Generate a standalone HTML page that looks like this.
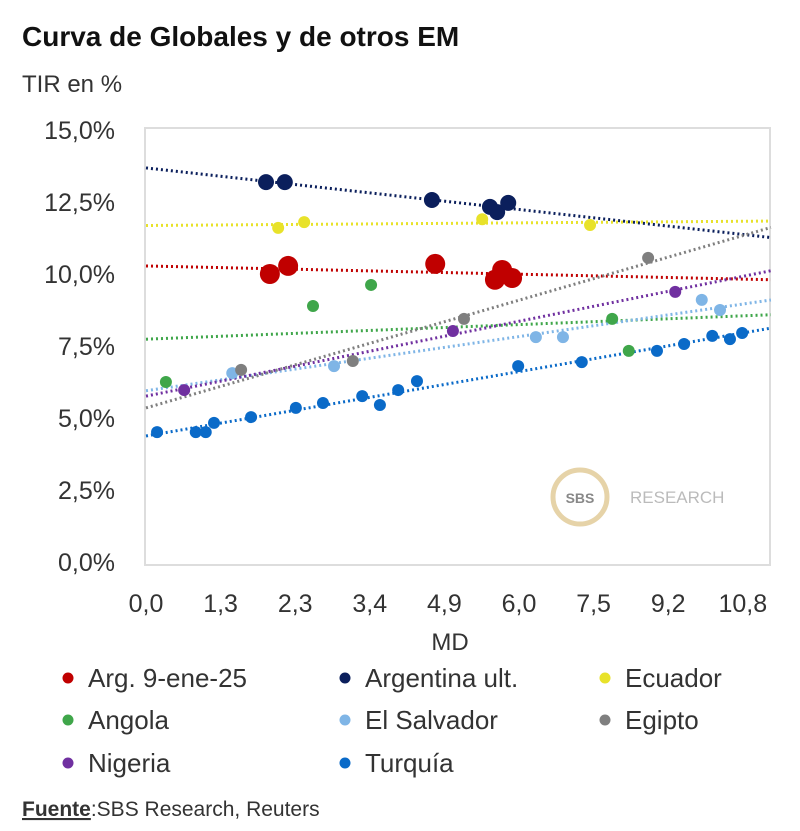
<!DOCTYPE html>
<html><head><meta charset="utf-8"><style>
html,body{margin:0;padding:0;background:#fff;}
body{width:800px;height:826px;overflow:hidden;font-family:"Liberation Sans",sans-serif;color:#222;}
</style></head><body>
<svg id="chart" width="800" height="826" viewBox="0 0 800 826" xmlns="http://www.w3.org/2000/svg" font-family="Liberation Sans, sans-serif">
<text x="22" y="46" font-size="28" font-weight="bold" fill="#111">Curva de Globales y de otros EM</text>
<text x="22" y="92" font-size="24" fill="#333">TIR en %</text>
<rect x="145" y="128" width="625" height="437" fill="#fff" stroke="#ddd" stroke-width="2"/>
<g>
<circle cx="580" cy="497" r="27" fill="none" stroke="#e6d3a8" stroke-width="5"/>
<text x="580" y="503" font-size="14" text-anchor="middle" fill="#888" font-weight="bold">SBS</text>
<text x="630" y="503" font-size="17" fill="#bbb">RESEARCH</text>
</g>
<g id="yticks"></g><g id="xticks"></g><g id="lines"></g><g id="points"></g>
<text x="450" y="650" font-size="24" text-anchor="middle" fill="#333">MD</text>
<g id="legend"></g>
<text x="22" y="816" font-size="21" fill="#333"><tspan font-weight="bold" text-decoration="underline">Fuente</tspan>:SBS Research, Reuters</text>
</svg>
<script>
const yTicks=[0,2.5,5,7.5,10,12.5,15];
const xTickLabels=["0,0","1,3","2,3","3,4","4,9","6,0","7,5","9,2","10,8"];
const seriesNames=["Arg. 9-ene-25","Argentina ult.","Ecuador","Angola","El Salvador","Egipto","Nigeria","Turquía"];
const seriesColors=["#c00000","#0b1f5c","#e8e22a","#3fa64a","#7fb5e6","#7f7f7f","#7030a0","#0a6ac8"];
const argX=[2.24,2.57,5.23,6.31,6.44,6.62];
const argY=[10.0,10.28,10.35,9.8,10.14,9.86];
const argUltX=[2.17,2.51,5.17,6.22,6.35,6.55];
const argUltY=[13.19,13.19,12.57,12.33,12.15,12.47];
const ecuX=[2.39,2.86,6.08,8.03];
const ecuY=[11.6,11.8,11.9,11.7];
const angX=[0.36,3.02,4.07,8.43,8.73];
const angY=[6.25,8.89,9.62,8.44,7.33];
const salX=[1.56,3.4,7.05,7.54,10.05,10.38];
const salY=[6.56,6.8,7.81,7.81,9.1,8.75];
const egiX=[1.72,3.74,5.75,9.08];
const egiY=[6.67,6.98,8.44,10.56];
const nigX=[0.69,5.55,9.57];
const nigY=[5.97,8.02,9.38];
const turX=[0.2,0.9,1.08,1.23,1.9,2.71,3.2,3.91,4.23,4.56,4.9,6.73,7.88,9.24,9.73,10.24,10.56,10.78];
const turY=[4.51,4.51,4.51,4.83,5.03,5.35,5.52,5.76,5.45,5.97,6.28,6.8,6.94,7.33,7.57,7.85,7.74,7.95];
const seriesX=[argX,argUltX,ecuX,angX,salX,egiX,nigX,turX];
const seriesY=[argY,argUltY,ecuY,angY,salY,egiY,nigY,turY];
const NS="http://www.w3.org/2000/svg";
const X0=146,XK=55.3,XMAX=11.3;
function sx(v){return X0+v*XK;}
function sy(v){return 562-v*28.8;}
function mk(t,a,p){const e=document.createElementNS(NS,t);for(const k in a)e.setAttribute(k,a[k]);p.appendChild(e);return e;}
const yt=document.getElementById('yticks');
yTicks.forEach(v=>{const t=mk('text',{x:115,y:sy(v)+9,'font-size':25,'text-anchor':'end',fill:'#333'},yt);


t.textContent=v.toFixed(1).replace('.',',')+'%';});
const xt=document.getElementById('xticks');
xTickLabels.forEach((l,i)=>{const t=mk('text',{x:146+i*74.6,y:612,'font-size':25,'text-anchor':'middle',fill:'#333'},xt);


t.textContent=l;});
const lg=document.getElementById('lines'),pg=document.getElementById('points');
seriesX.forEach((xs,s)=>{
 const ys=seriesY[s],n=xs.length;
 let mx=0,my=0;for(let i=0;i<n;i++){mx+=xs[i];my+=ys[i];}mx/=n;my/=n;
 let num=0,den=0;for(let i=0;i<n;i++){num+=(xs[i]-mx)*(ys[i]-my);den+=(xs[i]-mx)**2;}
 const b=den?num/den:0,a=my-b*mx;
 const ln=mk('line',{x1:sx(0),y1:sy(a),x2:sx(XMAX),y2:sy(a+b*XMAX),stroke:seriesColors[s],'stroke-width':3,'stroke-dasharray':'2 3'},lg);
 
 
 xs.forEach((x,i)=>{const c=mk('circle',{cx:sx(x),cy:sy(ys[i]),r:s===0?10:(s===1?8:6),fill:seriesColors[s]},pg);
 
 });
});
const leg=document.getElementById('legend');
const colX=[68,345,605],rowY=[678,720,763];
seriesNames.forEach((nm,i)=>{const cx=colX[i%3],cy=rowY[Math.floor(i/3)];
 const g=mk('g',{},leg);
 
 
 mk('circle',{cx:cx,cy:cy,r:5.5,fill:seriesColors[i]},g);
 const t=mk('text',{x:cx+20,y:cy+9,'font-size':26,fill:'#333'},g);t.textContent=nm;});
</script>
</body></html>
